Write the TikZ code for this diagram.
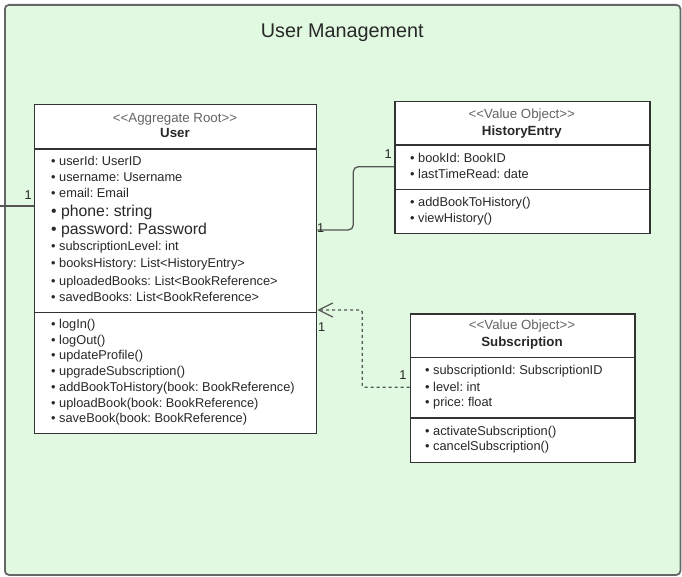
\documentclass[tikz,border=0pt]{standalone}
\usepackage{fontspec}
\setmainfont{Liberation Sans}
\usetikzlibrary{positioning, arrows.meta}
\definecolor{pkggreen}{RGB}{225,249,225}
\definecolor{pkgline}{RGB}{102,102,102}
\definecolor{boxline}{RGB}{51,51,51}
\definecolor{itemtext}{RGB}{40,40,40}
\definecolor{stereogray}{RGB}{100,100,100}
\definecolor{linkgray}{RGB}{85,85,85}
\newcommand{\stereo}[1]{<\kern0pt<#1>\kern0pt>}
\frenchspacing

\begin{document}
\begin{tikzpicture}[x=1pt,y=-1pt,
  classbox/.style={draw=boxline, line width=1.3pt, fill=white, anchor=north west, inner sep=0pt},
  item/.style={anchor=base west, inner sep=0pt, text=itemtext, font=\fontsize{12.8}{15}\selectfont},
  bigitem/.style={item, font=\fontsize{15.8}{18}\selectfont},
  stereotype/.style={anchor=base, inner sep=0pt, text=stereogray, font=\fontsize{13.3}{15}\selectfont},
  cname/.style={anchor=base, inner sep=0pt, text=itemtext, font=\fontsize{13.3}{15}\selectfont\bfseries},
  mult/.style={inner sep=0pt, text=itemtext, font=\fontsize{12.8}{15}\selectfont},
  link/.style={draw=linkgray, line width=1.3pt}]
\useasboundingbox (0,0) rectangle (682,577);
% package frame
\node[draw=pkgline, fill=pkggreen, line width=1.8pt, rounded corners=4pt, anchor=north west,
  minimum width=675.5pt, minimum height=570pt, inner sep=0pt] (pkg) at (4,4) {};
\node[anchor=base, inner sep=0pt, text=itemtext, font=\fontsize{19.8}{22}\selectfont] (title) at (342.3,37.7) {User Management};

% User
\node[classbox, minimum width=282pt, minimum height=329pt] (user) at (34,104) {};
\draw[boxline, line width=1.3pt] ([yshift=-45pt]user.north west) -- ([yshift=-45pt]user.north east);
\draw[boxline, line width=1.3pt] ([yshift=-208.7pt]user.north west) -- ([yshift=-208.7pt]user.north east);
\node[stereotype] (ust) at (175,122.4) {\stereo{Aggregate Root}};
\node[cname] (uname) at (175,137.4) {User};
\foreach \t/\y [count=\i] in {userId: UserID/165.5, username: Username/182, email: Email/198,
  subscriptionLevel: int/251, booksHistory: List<HistoryEntry>/267.5,
  uploadedBooks: List<BookReference>/285.5, savedBooks: List<BookReference>/301}
  \node[item] (ua\i) at (51,\y) {• \t};
\node[bigitem] (uphone) at (51,216.3) {• phone: string};
\node[bigitem] (upass) at (51,235) {• password: Password};
\foreach \t [count=\i] in {logIn(), logOut(), updateProfile(), upgradeSubscription(),
  addBookToHistory(book: BookReference), uploadBook(book: BookReference), saveBook(book: BookReference)}
  \node[item] (um\i) at (51,{328.5+15.7*(\i-1)}) {• \t};

% HistoryEntry
\node[classbox, minimum width=255pt, minimum height=131.7pt] (hist) at (394.3,101) {};
\draw[boxline, line width=1.3pt] ([yshift=-44pt]hist.north west) -- ([yshift=-44pt]hist.north east);
\draw[boxline, line width=1.3pt] ([yshift=-88.3pt]hist.north west) -- ([yshift=-88.3pt]hist.north east);
\node[stereotype] (hst) at (521.8,118.8) {\stereo{Value Object}};
\node[cname] (hname) at (521.8,135.5) {HistoryEntry};
\node[item] (ha1) at (410,162.8) {• bookId: BookID};
\node[item] (ha2) at (410,178.5) {• lastTimeRead: date};
\node[item] (hm1) at (410,206.8) {• addBookToHistory()};
\node[item] (hm2) at (410,222.2) {• viewHistory()};

% Subscription
\node[classbox, minimum width=224.6pt, minimum height=148.4pt] (sub) at (409.7,313.3) {};
\draw[boxline, line width=1.3pt] ([yshift=-44pt]sub.north west) -- ([yshift=-44pt]sub.north east);
\draw[boxline, line width=1.3pt] ([yshift=-104.7pt]sub.north west) -- ([yshift=-104.7pt]sub.north east);
\node[stereotype] (sst) at (522,329.7) {\stereo{Value Object}};
\node[cname] (sname) at (522,346.5) {Subscription};
\foreach \t/\y [count=\i] in {subscriptionId: SubscriptionID/374.5, level: int/391.2, price: float/406.8,
  activateSubscription()/435.5, cancelSubscription()/450.2}
  \node[item] (sa\i) at (425,\y) {• \t};

% connectors
\coordinate (leftend) at (0,206);
\draw[link] ([yshift=-102pt]user.north west) -- (leftend);
\node[mult, anchor=base east] (m1) at (32,200) {1};
\draw[link, rounded corners=5pt] ([yshift=-126pt]user.north east) -| ([yshift=-65.7pt,xshift=-41pt]hist.north west)
  -- ([yshift=-65.7pt]hist.north west);
\node[mult, anchor=base west] (m2) at (317,233) {1};
\node[mult, anchor=base east] (m3) at (392,158.3) {1};
\draw[link, dashed, rounded corners=2pt, -{Straight Barb[length=14pt, width=14pt]}]
  ([yshift=-74pt]sub.north west) -- ++(-47.4,0) |- ([yshift=-206pt]user.north east);
\node[mult, anchor=base west] (m4) at (318,331.7) {1};
\node[mult, anchor=base east] (m5) at (406.7,379.3) {1};
\end{tikzpicture}
\end{document}
